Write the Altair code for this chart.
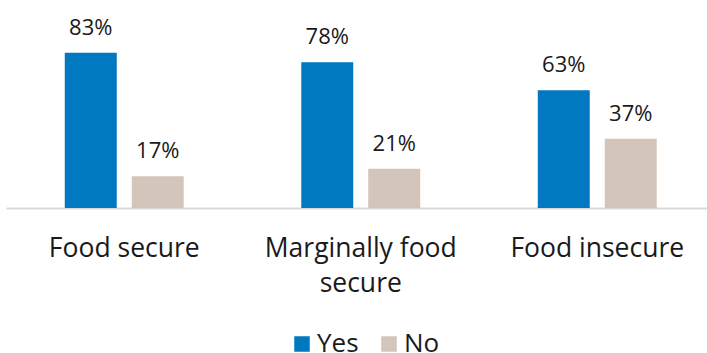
import altair as alt
import pandas as pd

categories = ["Food secure", "Marginally food secure", "Food insecure"]
yes_values = [83, 78, 63]
no_values = [17, 21, 37]
series = ["Yes", "No"]
colors = ["#0079C1", "#D3C5BA"]

rows = []
for c, y, n in zip(categories, yes_values, no_values):
    rows.append({"category": c, "answer": "Yes", "value": y, "label": f"{y}%"})
    rows.append({"category": c, "answer": "No", "value": n, "label": f"{n}%"})
df = pd.DataFrame(rows)

x = alt.X("category:N", sort=categories, title=None,
          scale=alt.Scale(paddingInner=0.497, paddingOuter=0.2485, range=[0, 709.5]),
          axis=alt.Axis(labelAngle=0, labelFontSize=26.5, labelFont="Open Sans",
                        labelColor="#1a1a1a", ticks=False, domainColor="#d9d9d9",
                        domainWidth=2, labelPadding=27, labelLineHeight=35,
                        labelLimit=400, labelBaseline="top",
                        labelExpr="datum.label == 'Marginally food secure' ? ['Marginally food', 'secure'] : datum.label"))
xo = alt.XOffset("answer:N", sort=series, scale=alt.Scale(paddingInner=0.224, paddingOuter=0))
y = alt.Y("value:Q", scale=alt.Scale(domain=[0, 100]), axis=None)

base = alt.Chart(df).encode(x=x, xOffset=xo, y=y)

bars = base.mark_bar().encode(
    color=alt.Color("answer:N", sort=series, scale=alt.Scale(domain=series, range=colors),
                    legend=alt.Legend(title=None, orient="none", direction="horizontal",
                                      legendX=283, legendY=310, symbolType="square",
                                      symbolSize=240, symbolStrokeWidth=0, labelFontSize=26,
                                      labelFont="Open Sans", labelColor="#1a1a1a",
                                      columnPadding=17, labelOffset=2))
)
text = base.mark_text(baseline="alphabetic", dy=-18, fontSize=22, font="Open Sans",
                      color="#1a1a1a").encode(text="label:N")

chart = (bars + text).properties(
    width=701, height=187,
    autosize=alt.AutoSizeParams(type="none"),
    padding={"left": 6, "top": 21, "right": 0, "bottom": 145},
).configure_view(stroke=None)

chart.save("out.html", embed_options={"renderer": "svg", "actions": False})
